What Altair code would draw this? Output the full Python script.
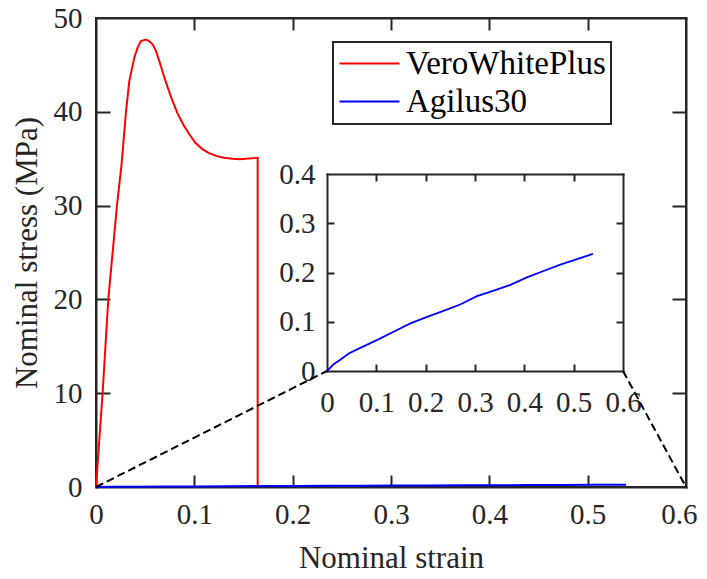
import altair as alt
import pandas as pd

# ---------------- data ----------------
series_names = ["VeroWhitePlus", "Agilus30"]
series_colors = ["#ff0000", "#0000ff"]

vero_strain = [0, 0.0067, 0.0125, 0.0213, 0.026, 0.0305, 0.0339, 0.039, 0.0425, 0.0458,
               0.0508, 0.054, 0.0576, 0.061, 0.0644, 0.0685, 0.0729, 0.078, 0.083, 0.089,
               0.0949, 0.101, 0.1084, 0.115, 0.122, 0.13, 0.139, 0.146, 0.1525, 0.159,
               0.1644, 0.1644]
vero_stress = [0, 10, 20, 30, 34.4, 40, 43.3, 45.8, 46.9, 47.55,
               47.7, 47.55, 47.2, 46.5, 45.4, 44.0, 42.6, 41.1, 39.8, 38.6,
               37.6, 36.7, 36.0, 35.6, 35.3, 35.1, 35.0, 34.95, 35.0, 35.05,
               35.1, 0]

agilus_strain = [0, 0.0135, 0.027, 0.044, 0.0676, 0.101, 0.135, 0.169, 0.203, 0.236,
                 0.270, 0.304, 0.338, 0.372, 0.405, 0.439, 0.473, 0.507, 0.539]
agilus_stress = [0, 0.0136, 0.023, 0.0354, 0.047, 0.0626, 0.0796, 0.0966, 0.110, 0.122,
                 0.135, 0.152, 0.163, 0.175, 0.190, 0.203, 0.216, 0.227, 0.238]

main_x_ticks = [0, 0.1, 0.2, 0.3, 0.4, 0.5, 0.6]
main_y_ticks = [0, 10, 20, 30, 40, 50]
inset_x_ticks = [0, 0.1, 0.2, 0.3, 0.4, 0.5, 0.6]
inset_y_ticks = [0, 0.1, 0.2, 0.3, 0.4]

x_title = "Nominal strain"
y_title = "Nominal stress (MPa)"

# ---------------- layout / style ----------------
W, H = 590, 469
MAIN_X_DOMAIN = [0, 0.6]
MAIN_Y_DOMAIN = [0, 50]
INSET_X_DOMAIN = [0, 0.6]
INSET_Y_DOMAIN = [0, 0.4]
INSET_L, INSET_R, INSET_T, INSET_B = 231, 527, 156, 353   # inset box in plot pixels
TICK_MX, TICK_MY, TICK_IN = 12, 14, 7                        # tick lengths in pixels
PAD_R = 11

FONT = "Liberation Serif"
AX = "#262626"

# connector end points (in main-axis units), derived from the inset box
cx0 = INSET_L / W * MAIN_X_DOMAIN[1]
cx1 = INSET_R / W * MAIN_X_DOMAIN[1]
cy = (H - INSET_B) / H * MAIN_Y_DOMAIN[1]

df_main = pd.DataFrame({
    "strain": vero_strain + agilus_strain,
    "stress": vero_stress + agilus_stress,
    "material": [series_names[0]] * len(vero_strain) + [series_names[1]] * len(agilus_strain),
    "idx": list(range(len(vero_strain))) + list(range(len(agilus_strain))),
})
df_agilus = pd.DataFrame({"strain": agilus_strain, "stress": agilus_stress,
                          "idx": list(range(len(agilus_strain)))})
df_conn = pd.DataFrame({
    "strain": [MAIN_X_DOMAIN[0], cx0, MAIN_X_DOMAIN[1], cx1],
    "stress": [MAIN_Y_DOMAIN[0], cy, MAIN_Y_DOMAIN[0], cy],
    "seg": ["a", "a", "b", "b"],
})


def mscale_x():
    return alt.Scale(domain=MAIN_X_DOMAIN, nice=False, zero=False)


def mscale_y():
    return alt.Scale(domain=MAIN_Y_DOMAIN, nice=False, zero=False)


def iscale_x():
    return alt.Scale(domain=INSET_X_DOMAIN, range=[INSET_L, INSET_R], nice=False, zero=False)


def iscale_y():
    return alt.Scale(domain=INSET_Y_DOMAIN, range=[INSET_B, INSET_T], nice=False, zero=False)


def label_axis(values, fmt, orient, offset, pad, title=None, title_pad=0, **extra):
    kw = dict(values=values, format=fmt, orient=orient, offset=offset,
              ticks=False, tickSize=0, labelPadding=pad, labelFont=FONT,
              labelFontSize=29, labelColor=AX, labelFlush=False, labelOverlap=False,
              domain=True, domainColor=AX, domainWidth=2, domainCap="square",
              grid=False, title=title)
    if title is not None:
        kw.update(titleFont=FONT, titleFontSize=31, titleFontWeight="normal",
                  titleColor=AX, titlePadding=title_pad)
    kw.update(extra)
    return alt.Axis(**kw)


def tick_axis(values, orient, offset, size, domain):
    """Mirror axis: only inward ticks (and optionally the frame edge)."""
    return alt.Axis(values=values, orient=orient, offset=offset, labels=False,
                    ticks=True, tickSize=size, tickWidth=2, tickColor=AX,
                    domain=domain, domainColor=AX, domainWidth=2, domainCap="square",
                    grid=False, title=None)


last_x = MAIN_X_DOMAIN[1]
x_label_align = {"condition": {"test": f"datum.value >= {last_x}", "value": "right"}, "value": "center"}
x_label_offset = {"condition": {"test": f"datum.value >= {last_x}", "value": PAD_R}, "value": 0}

# ---- main plot: curves, labelled bottom/left axes, legend ----
main_lines = alt.Chart(df_main).mark_line(strokeWidth=2).encode(
    x=alt.X("strain:Q", scale=mscale_x(),
            axis=label_axis(main_x_ticks, ".1~f", "bottom", 0, 13, x_title, 14,
                            labelAlign=x_label_align, labelOffset=x_label_offset)),
    y=alt.Y("stress:Q", scale=mscale_y(),
            axis=label_axis(main_y_ticks, "d", "left", 0, 14, y_title, 10)),
    color=alt.Color("material:N",
                    scale=alt.Scale(domain=series_names, range=series_colors),
                    legend=alt.Legend(title=None, orient="none", legendX=237, legendY=24,
                                      direction="vertical", symbolType="M-1,0H3",
                                      symbolSize=900, symbolStrokeWidth=2,
                                      labelFont=FONT, labelFontSize=33, labelColor="black",
                                      labelLimit=400, labelOffset=35, padding=5,
                                      rowPadding=4, strokeColor=AX, fillColor="white")),
    order=alt.Order("idx:Q"),
)

# invisible carriers for the mirror axes (inward ticks, top/right frame edges)
main_ticks_in = alt.Chart(df_main).mark_point(opacity=0).encode(
    x=alt.X("strain:Q", scale=mscale_x(),
            axis=tick_axis(main_x_ticks[1:-1], "top", -H, TICK_MX, False)),
    y=alt.Y("stress:Q", scale=mscale_y(),
            axis=tick_axis(main_y_ticks[1:-1], "right", -W, TICK_MY, False)),
)
main_ticks_box = alt.Chart(df_main).mark_point(opacity=0).encode(
    x=alt.X("strain:Q", scale=mscale_x(),
            axis=tick_axis(main_x_ticks[1:-1], "bottom", -H, TICK_MX, True)),
    y=alt.Y("stress:Q", scale=mscale_y(),
            axis=tick_axis(main_y_ticks[1:-1], "left", -W, TICK_MY, True)),
)

connectors = alt.Chart(df_conn).mark_line(color="black", strokeWidth=2, strokeDash=[8, 4]).encode(
    x=alt.X("strain:Q", scale=mscale_x(), axis=None),
    y=alt.Y("stress:Q", scale=mscale_y(), axis=None),
    detail="seg:N",
)

# ---- inset ----
inset_line = alt.Chart(df_agilus).mark_line(color=series_colors[1], strokeWidth=1.8).encode(
    x=alt.X("strain:Q", scale=iscale_x(),
            axis=label_axis(inset_x_ticks, ".1~f", "bottom", INSET_B - H, 17)),
    y=alt.Y("stress:Q", scale=iscale_y(),
            axis=label_axis(inset_y_ticks, ".1~f", "left", -INSET_L, 12)),
    order=alt.Order("idx:Q"),
)
inset_ticks_in = alt.Chart(df_agilus).mark_point(opacity=0).encode(
    x=alt.X("strain:Q", scale=iscale_x(),
            axis=tick_axis(inset_x_ticks[1:-1], "top", -INSET_B, TICK_IN, False)),
    y=alt.Y("stress:Q", scale=iscale_y(),
            axis=tick_axis(inset_y_ticks[1:-1], "right", INSET_L - W, TICK_IN, False)),
)
inset_ticks_box = alt.Chart(df_agilus).mark_point(opacity=0).encode(
    x=alt.X("strain:Q", scale=iscale_x(),
            axis=tick_axis(inset_x_ticks[1:-1], "bottom", INSET_T - H, TICK_IN, True)),
    y=alt.Y("stress:Q", scale=iscale_y(),
            axis=tick_axis(inset_y_ticks[1:-1], "left", -INSET_R, TICK_IN, True)),
)

chart = alt.layer(
    main_ticks_in, main_ticks_box, main_lines, connectors,
    inset_ticks_in, inset_ticks_box, inset_line,
).resolve_scale(
    x="independent", y="independent"
).resolve_axis(
    x="independent", y="independent"
).properties(
    width=W, height=H,
    autosize=alt.AutoSizeParams(type="none"),
    padding={"left": 88, "top": 10, "right": PAD_R, "bottom": 82},
    background="white",
).configure_view(
    stroke=AX, strokeWidth=2
).configure_legend(
    strokeWidth=2
)

chart.save("out.html", embed_options={"renderer": "svg", "actions": False})
